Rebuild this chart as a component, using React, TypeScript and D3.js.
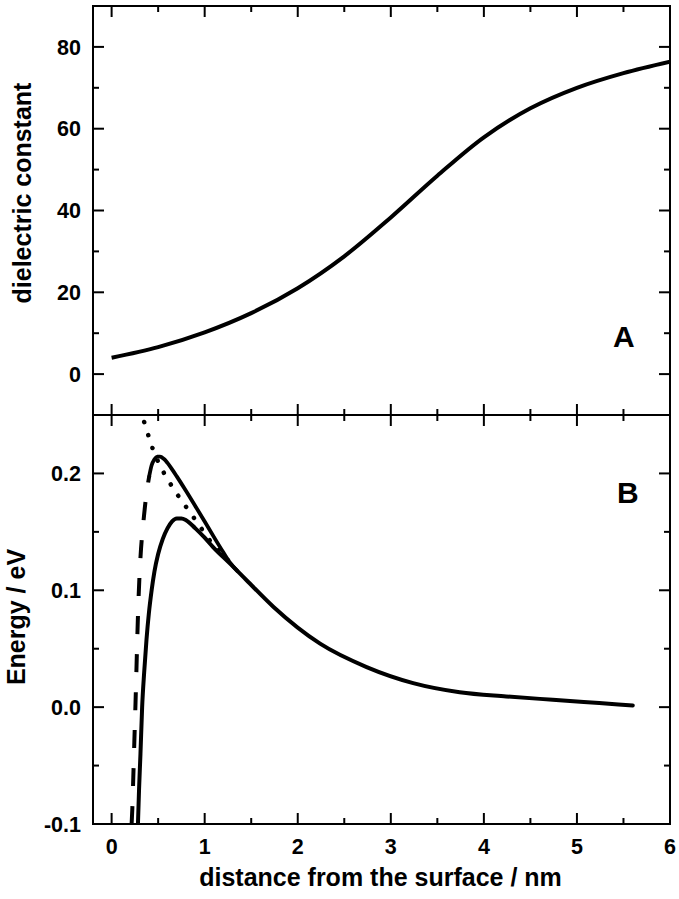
import React from 'react';
import * as d3 from 'd3';

// ---- axis ticks ----
const xTicks = [0, 1, 2, 3, 4, 5, 6];
const xMinorTicks = [0.5, 1.5, 2.5, 3.5, 4.5, 5.5];
const epsTicks = [0, 20, 40, 60, 80];
const epsMinorTicks = [10, 30, 50, 70];
const energyTicks = [-0.1, 0.0, 0.1, 0.2];
const energyTickLabels = ['-0.1', '0.0', '0.1', '0.2'];
const energyMinorTicks = [-0.05, 0.05, 0.15];

// ---- panel A: dielectric constant profile ----
const epsX = [0, 0.5, 1, 1.5, 2, 2.5, 3, 3.5, 4, 4.5, 5, 5.5, 6];
const epsY = [4.0, 6.6, 10.2, 14.9, 21.0, 28.8, 38.3, 48.5, 57.9, 65.0, 70.0, 73.6, 76.4];

// ---- panel B: energy curves ----
// lower solid curve
const lowerX = [0.283, 0.295, 0.31, 0.328, 0.35, 0.375, 0.4, 0.43, 0.46, 0.5, 0.55, 0.6, 0.65, 0.7, 0.75, 0.8, 0.9, 1.0, 1.09, 1.27, 1.45, 1.74, 2.24, 2.74, 3.24, 3.74, 4.24, 4.74, 5.24, 5.6];
const lowerY = [-0.1, -0.07, -0.04, 0.0, 0.03, 0.058, 0.08, 0.1, 0.116, 0.131, 0.144, 0.153, 0.159, 0.1615, 0.1615, 0.16, 0.153, 0.145, 0.137, 0.123, 0.1086, 0.0857, 0.0543, 0.0343, 0.0206, 0.0128, 0.0092, 0.0063, 0.0035, 0.0015];
// upper solid curve (continues the dashed branch past its maximum)
const upperX = [0.405, 0.43, 0.46, 0.49, 0.52, 0.56, 0.6, 0.65, 0.7, 0.8, 0.9, 1.0, 1.1, 1.2, 1.27, 1.35];
const upperY = [0.198, 0.207, 0.212, 0.2143, 0.2143, 0.2125, 0.209, 0.2035, 0.1975, 0.185, 0.172, 0.1588, 0.1455, 0.1325, 0.1238, 0.1166];
// dashed rising branch
const dashedX = [0.215, 0.222, 0.233, 0.244, 0.257, 0.266, 0.277, 0.29, 0.31, 0.34, 0.377, 0.405];
const dashedY = [-0.1, -0.088, -0.06, -0.03, 0.004, 0.03, 0.062, 0.094, 0.128, 0.157, 0.184, 0.198];
// dotted curve
const dottedX = [0.35, 0.413, 0.44, 0.527, 0.617, 0.706, 0.795, 0.88, 0.968, 1.076, 1.2, 1.27];
const dottedY = [0.244, 0.228, 0.2215, 0.2057, 0.193, 0.182, 0.172, 0.1625, 0.1525, 0.1405, 0.1305, 0.1238];

const FONT = '"Liberation Sans", Arial, Helvetica, sans-serif';

export default function App() {
  const W = 679;
  const H = 899;
  const left = 93;
  const right = 670;
  const top = 6;
  const mid = 415;
  const bottom = 824;
  const major = 11;
  const minor = 6;

  const x = d3.scaleLinear().domain([-0.2, 6]).range([left, right]);
  const yA = d3.scaleLinear().domain([-10, 90]).range([mid, top]);
  const yB = d3.scaleLinear().domain([-0.1, 0.25]).range([bottom, mid]);

  const lineA = d3
    .line<number>()
    .x((_, i) => x(epsX[i]))
    .y((d) => yA(d))
    .curve(d3.curveCatmullRom.alpha(0.5));

  const mkLineB = (xs: number[]) =>
    d3
      .line<number>()
      .x((_, i) => x(xs[i]))
      .y((d) => yB(d))
      .curve(d3.curveMonotoneX);

  const tickLines: JSX.Element[] = [];
  let k = 0;
  const addXTicks = (yTop: number, yBot: number) => {
    xTicks.forEach((t) => {
      tickLines.push(<line key={k++} x1={x(t)} x2={x(t)} y1={yTop} y2={yTop + major} />);
      tickLines.push(<line key={k++} x1={x(t)} x2={x(t)} y1={yBot} y2={yBot - major} />);
    });
    xMinorTicks.forEach((t) => {
      tickLines.push(<line key={k++} x1={x(t)} x2={x(t)} y1={yTop} y2={yTop + minor} />);
      tickLines.push(<line key={k++} x1={x(t)} x2={x(t)} y1={yBot} y2={yBot - minor} />);
    });
  };
  addXTicks(top, mid);
  addXTicks(mid, bottom);
  const addYTicks = (vals: number[], scale: (v: number) => number, len: number) => {
    vals.forEach((v) => {
      tickLines.push(<line key={k++} x1={left} x2={left + len} y1={scale(v)} y2={scale(v)} />);
      tickLines.push(<line key={k++} x1={right} x2={right - len} y1={scale(v)} y2={scale(v)} />);
    });
  };
  addYTicks(epsTicks, yA, major);
  addYTicks(epsMinorTicks, yA, minor);
  addYTicks(energyTicks, yB, major);
  addYTicks(energyMinorTicks, yB, minor);

  const tickFont = 21.5;

  return (
    <svg
      width={W}
      height={H}
      viewBox={`0 0 ${W} ${H}`}
      style={{ position: 'absolute', left: 0, top: 0, background: '#fff' }}
      fontFamily={FONT}
      fontWeight="bold"
    >
      <rect x={0} y={0} width={W} height={H} fill="#fff" />
      <defs>
        <clipPath id="clipB">
          <rect x={left} y={mid} width={right - left} height={bottom - mid} />
        </clipPath>
        <clipPath id="clipA">
          <rect x={left} y={top} width={right - left} height={mid - top} />
        </clipPath>
      </defs>

      {/* curve panel A */}
      <path
        d={lineA(epsY) || ''}
        fill="none"
        stroke="#000"
        strokeWidth={4}
        clipPath="url(#clipA)"
      />

      {/* curves panel B */}
      <g clipPath="url(#clipB)" fill="none" stroke="#000">
        <path d={mkLineB(dottedX)(dottedY) || ''} strokeWidth={4.5} strokeDasharray="0.1 13.5" strokeLinecap="round" />
        <path d={mkLineB(dashedX)(dashedY) || ''} strokeWidth={4} strokeDasharray="18 20" />
        <path d={mkLineB(upperX)(upperY) || ''} strokeWidth={3.8} strokeLinecap="round" />
        <path d={mkLineB(lowerX)(lowerY) || ''} strokeWidth={4} strokeLinecap="round" />
      </g>

      {/* frames and ticks */}
      <g stroke="#000" strokeWidth={2} fill="none">
        <rect x={left} y={top} width={right - left} height={bottom - top} />
        <line x1={left} x2={right} y1={mid} y2={mid} />
        {tickLines}
      </g>

      {/* y tick labels */}
      <g fontSize={tickFont} textAnchor="end" fill="#000">
        {epsTicks.map((t) => (
          <text key={'a' + t} x={left - 12} y={yA(t) + tickFont * 0.358}>
            {t}
          </text>
        ))}
        {energyTicks.map((t, i) => (
          <text key={'b' + t} x={left - 12} y={yB(t) + tickFont * 0.358}>
            {energyTickLabels[i]}
          </text>
        ))}
      </g>

      {/* x tick labels */}
      <g fontSize={tickFont} textAnchor="middle" fill="#000">
        {xTicks.map((t) => (
          <text key={'x' + t} x={x(t)} y={854}>
            {t}
          </text>
        ))}
      </g>

      {/* axis titles */}
      <text x={(left + right) / 2 - 1} y={886} fontSize={25} textAnchor="middle">
        distance from the surface / nm
      </text>
      <text transform={`translate(31,193) rotate(-90)`} fontSize={25} textAnchor="middle">
        dielectric constant
      </text>
      <text transform={`translate(25,617) rotate(-90)`} fontSize={25} textAnchor="middle">
        Energy / eV
      </text>

      {/* panel letters */}
      <text x={613} y={347} fontSize={30}>A</text>
      <text x={617} y={503} fontSize={30}>B</text>
    </svg>
  );
}
